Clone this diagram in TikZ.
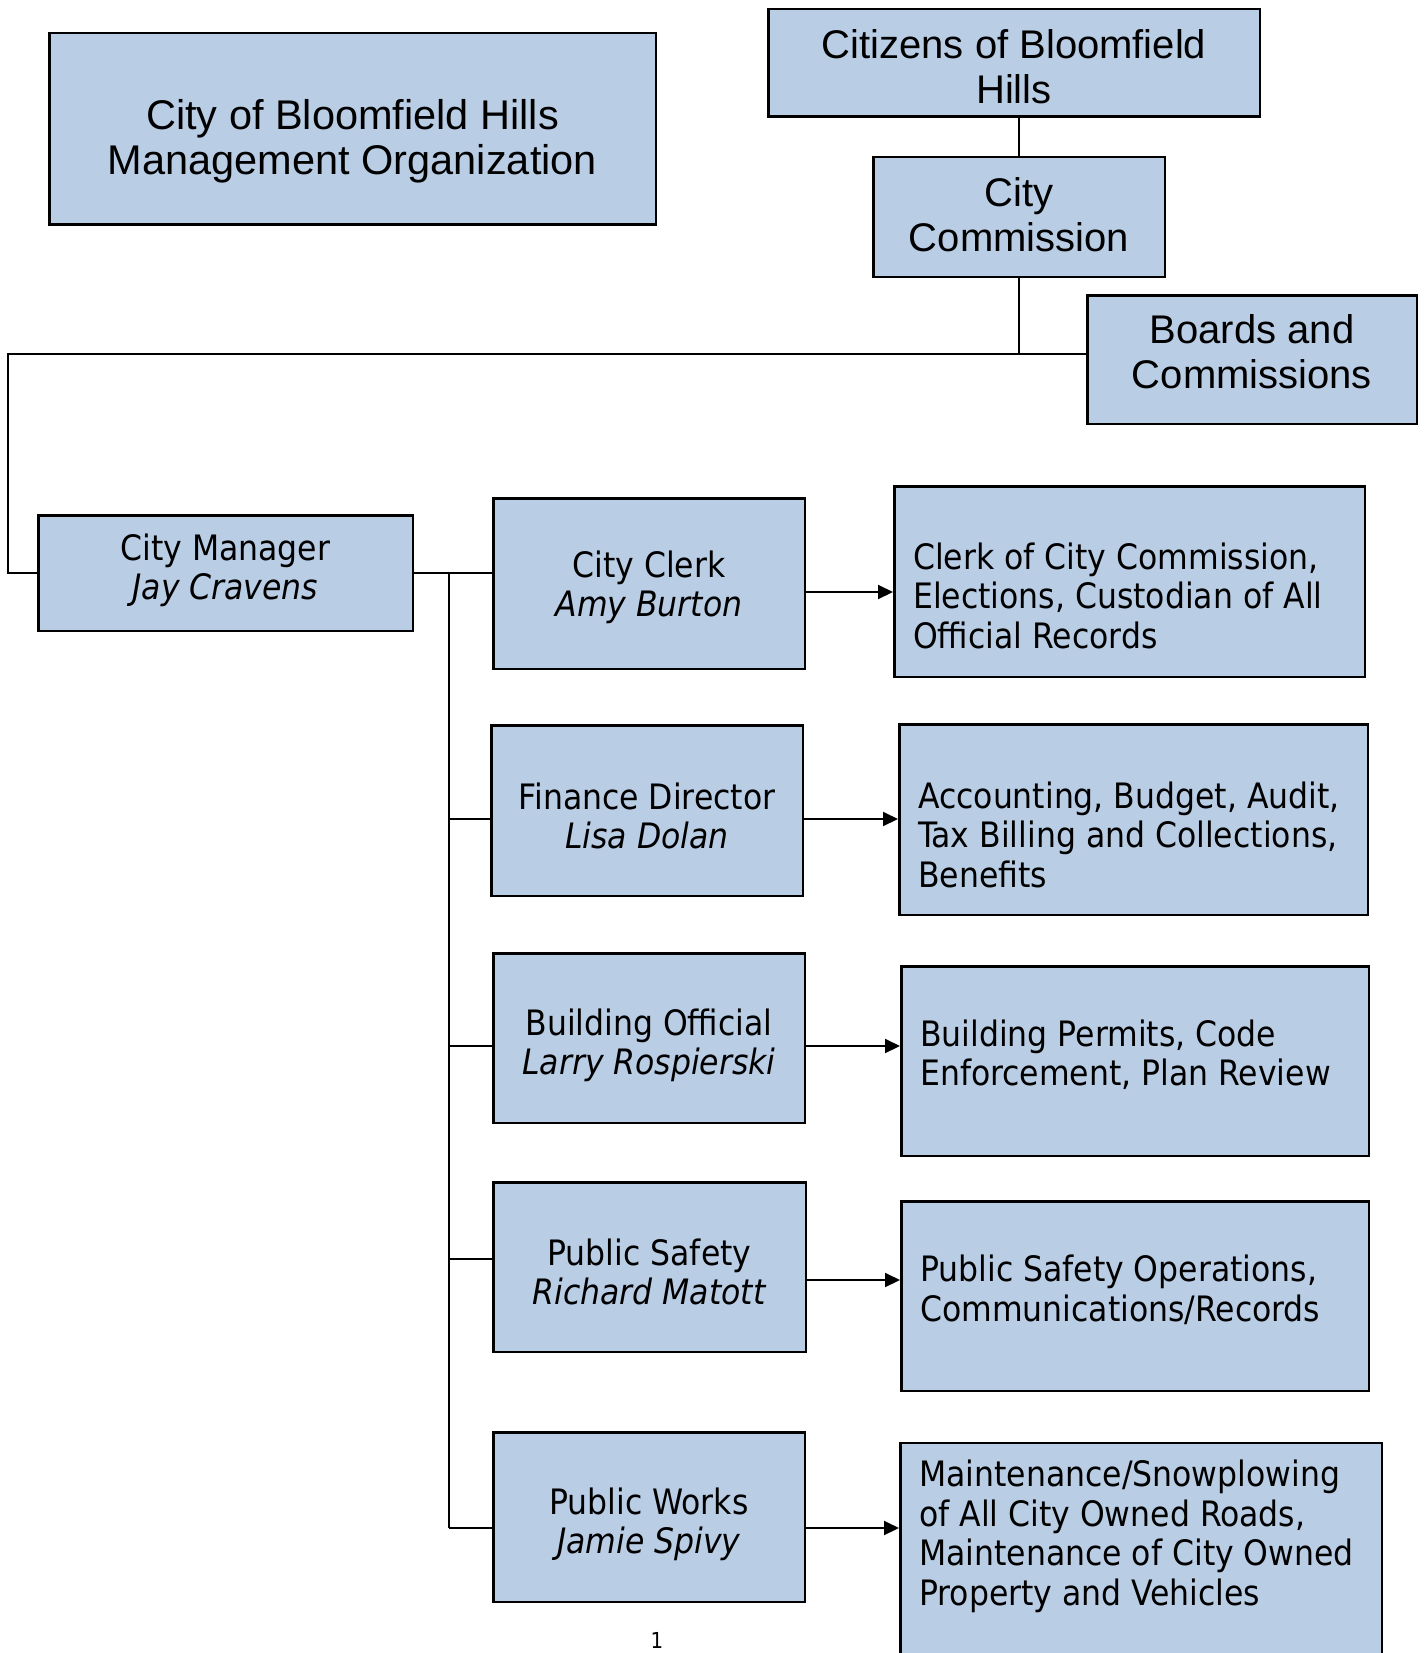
\documentclass[tikz,border=0pt]{standalone}
\usepackage{fontspec}
\setmainfont{DejaVu Sans Condensed}
\newfontfamily\arialf{Liberation Sans}
\usetikzlibrary{arrows.meta}
\definecolor{boxblue}{RGB}{185,205,229}
\begin{document}
\begin{tikzpicture}[x=1pt,y=-1pt,
  box/.style={draw=black, line width=2.5pt, fill=boxblue, inner sep=0pt, align=center},
  conn/.style={line width=2pt},
  arr/.style={line width=2pt, -{Triangle[length=15pt,width=14pt]}},
  tf/.style={font=\fontsize{35}{39}\selectfont},
  df/.style={font=\fontsize{35}{39.5}\selectfont},
  af/.style={font=\arialf\fontsize{40}{45}\selectfont},
  titlefont/.style={font=\arialf\fontsize{41.5}{45}\selectfont},
  desc/.style={anchor=base west, inner sep=0pt, df}]
\useasboundingbox (0,0) rectangle (1424,1653);
% top boxes
\node[box, minimum width=606.5pt, minimum height=191.5pt,
  label={[titlefont,align=center,yshift=-12pt]center:City of Bloomfield Hills\\Management Organization}] (title) at (352.5,129) {};
\node[box, minimum width=491.5pt, minimum height=107.5pt,
  label={[af,align=center,yshift=-4pt]center:Citizens of Bloomfield\\Hills}] (citizens) at (1014,63) {};
\node[box, minimum width=291.5pt, minimum height=119.5pt,
  label={[af,align=center,yshift=2pt]center:City\\Commission}] (commission) at (1019,217) {};
\node[box, minimum width=329.5pt, minimum height=128.5pt,
  label={[af,align=center,yshift=7.5pt]center:Boards and\\Commissions}] (boards) at (1252,359.5) {};
% people
\node[box, minimum width=374.5pt, minimum height=115.5pt,
  label={[tf,align=center,yshift=3pt]center:City Manager\\\textit{Jay Cravens}}] (manager) at (225.5,573) {};
\node[box, minimum width=311.5pt, minimum height=170.5pt,
  label={[tf,align=center,yshift=-4pt]center:City Clerk\\\textit{Amy Burton}}] (clerk) at (649,583.5) {};
\node[box, minimum width=311.5pt, minimum height=170.5pt,
  label={[tf,align=center,yshift=-5pt]center:Finance Director\\\textit{Lisa Dolan}}] (finance) at (647,810.5) {};
\node[box, minimum width=311.5pt, minimum height=169.5pt,
  label={[tf,align=center,yshift=-7.5pt]center:Building Official\\\textit{Larry Rospierski}}] (building) at (649,1038) {};
\node[box, minimum width=312.5pt, minimum height=169.5pt,
  label={[tf,align=center,yshift=-5pt]center:Public Safety\\\textit{Richard Matott}}] (ps) at (649.5,1267) {};
\node[box, minimum width=311.5pt, minimum height=169.5pt,
  label={[tf,align=center,yshift=-7.5pt]center:Public Works\\\textit{Jamie Spivy}}] (pw) at (649,1517) {};
% descriptions
\node[box, minimum width=470.5pt, minimum height=190.5pt] (clerkd) at (1129.5,581.5) {};
\node[box, minimum width=468.5pt, minimum height=190.5pt] (financed) at (1133.5,819.5) {};
\node[box, minimum width=467.5pt, minimum height=189.5pt] (buildingd) at (1135,1061) {};
\node[box, minimum width=467.5pt, minimum height=189.5pt] (psd) at (1135,1296) {};
\node[box, minimum width=481.5pt, minimum height=256.5pt] (pwd) at (1141,1571) {};
\node[desc] (clerkt) at ([xshift=20pt,yshift=-84pt]clerkd.north west) {\parbox[t]{600pt}{Clerk of City Commission,\\Elections, Custodian of All\\Official Records}};
\node[desc] (financet) at ([xshift=20pt,yshift=-85pt]financed.north west) {\parbox[t]{600pt}{Accounting, Budget, Audit,\\Tax Billing and Collections,\\Benefits}};
\node[desc] (buildingt) at ([xshift=20pt,yshift=-81pt]buildingd.north west) {\parbox[t]{600pt}{Building Permits, Code\\Enforcement, Plan Review}};
\node[desc] (pst) at ([xshift=20pt,yshift=-81.5pt]psd.north west) {\parbox[t]{600pt}{Public Safety Operations,\\Communications/Records}};
\node[desc] (pwt) at ([xshift=20pt,yshift=-45pt]pwd.north west) {\parbox[t]{600pt}{Maintenance/Snowplowing\\of All City Owned Roads,\\Maintenance of City Owned\\Property and Vehicles}};
% connectors
\coordinate (j1) at (1019,354);
\coordinate (cl) at (8,354);
\coordinate (t0) at (449,573);
\coordinate (t1) at (449,1528);
\draw[conn] (commission.north |- citizens.south) -- (commission.north);
\draw[conn] (commission.south) -- (j1);
\draw[conn] (j1 -| boards.west) -- (cl) |- (manager.west);
\draw[conn] (manager.east) -- (clerk.west |- manager.east);
\draw[conn] (t0) -- (t1);
\draw[conn] (t0 |- 0,819) -- (finance.west |- 0,819);
\draw[conn] (t0 |- 0,1046) -- (building.west |- 0,1046);
\draw[conn] (t0 |- 0,1259) -- (ps.west |- 0,1259);
\draw[conn] (t1) -- (pw.west |- t1);
\draw[arr] (clerk.east |- 0,592) -- (clerkd.west |- 0,592);
\draw[arr] (finance.east |- 0,819) -- (financed.west |- 0,819);
\draw[arr] (building.east |- 0,1046) -- (buildingd.west |- 0,1046);
\draw[arr] (ps.east |- 0,1280) -- (psd.west |- 0,1280);
\draw[arr] (pw.east |- 0,1528) -- (pwd.west |- 0,1528);
\node[font=\fontsize{22}{26}\selectfont] (pg) at (657,1640) {1};
\end{tikzpicture}
\end{document}
